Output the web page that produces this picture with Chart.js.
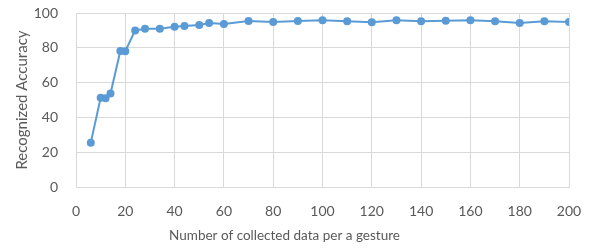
<!DOCTYPE html>
<html>
<head>
<meta charset="utf-8">
<script src="https://cdn.jsdelivr.net/npm/chart.js@4/dist/chart.umd.min.js"></script>
<style>
  html, body { margin: 0; padding: 0; background: #fff; }
  #wrap { width: 591px; height: 248px; position: relative; }
</style>
</head>
<body>
<div id="wrap"><canvas id="accChart"></canvas></div>
<script>
// samples per gesture vs recognized accuracy (%)
const sampleCounts = [6, 10, 12, 14, 18, 20, 24, 28, 34, 40, 44, 50, 54, 60, 70, 80, 90, 100, 110, 120, 130, 140, 150, 160, 170, 180, 190, 200];
const accuracy = [25.5, 51.3, 51, 53.8, 78.2, 78, 90, 91, 91, 92.1, 92.5, 93.1, 94.2, 93.7, 95.4, 94.8, 95.4, 95.8, 95.2, 94.7, 95.8, 95.2, 95.6, 95.8, 95.2, 94.3, 95.2, 94.8];
const xTitle = 'Number of collected data per a gesture';
const yTitle = 'Recognized Accuracy';

const textGray = '#595959';
const gridGray = '#D9D9D9';
const lineBlue = '#5B9BD5';

const points = sampleCounts.map((x, i) => ({ x: x, y: accuracy[i] }));

const ctx = document.getElementById('accChart').getContext('2d');
new Chart(ctx, {
  type: 'scatter',
  data: {
    datasets: [{
      data: points,
      showLine: true,
      borderColor: lineBlue,
      backgroundColor: lineBlue,
      borderWidth: 2,
      pointRadius: 3,
      pointHoverRadius: 3,
      fill: false,
    }],
  },
  options: {
    responsive: true,
    maintainAspectRatio: false,
    animation: false,
    plugins: {
      legend: { display: false },
      tooltip: { enabled: false },
      // x axis title drawn as chart title so it centres on the whole canvas like the original
      title: {
        display: true,
        position: 'bottom',
        text: xTitle,
        color: textGray,
        font: { family: 'Lato', size: 13.5, weight: 'normal', lineHeight: 1.2 },
        padding: { top: 0, bottom: 4 },
      },
    },
    layout: { padding: { left: 0, right: 22, top: 13, bottom: 0 } },
    scales: {
      x: {
        type: 'linear',
        min: 0,
        max: 200,
        ticks: { stepSize: 20, color: textGray, font: { family: 'Lato', size: 14 }, padding: 16 },
        grid: { color: gridGray, drawTicks: false },
        border: { color: gridGray },
        afterFit: (scale) => {
          scale.height = 40.8;
          scale.paddingLeft = 0;
          scale.paddingRight = 0;
        },
      },
      y: {
        min: 0,
        max: 100,
        ticks: { stepSize: 20, color: textGray, font: { family: 'Lato', size: 14 }, padding: 18 },
        grid: { color: gridGray, drawTicks: false },
        border: { color: gridGray },
        title: { display: true, text: yTitle, color: textGray, font: { family: 'Lato', size: 15 }, padding: { top: 13, bottom: 0 } },
        afterFit: (scale) => {
          scale.width = 76;
          scale.paddingTop = 0;
          scale.paddingBottom = 0;
        },
      },
    },
  },
});
</script>
</body>
</html>
